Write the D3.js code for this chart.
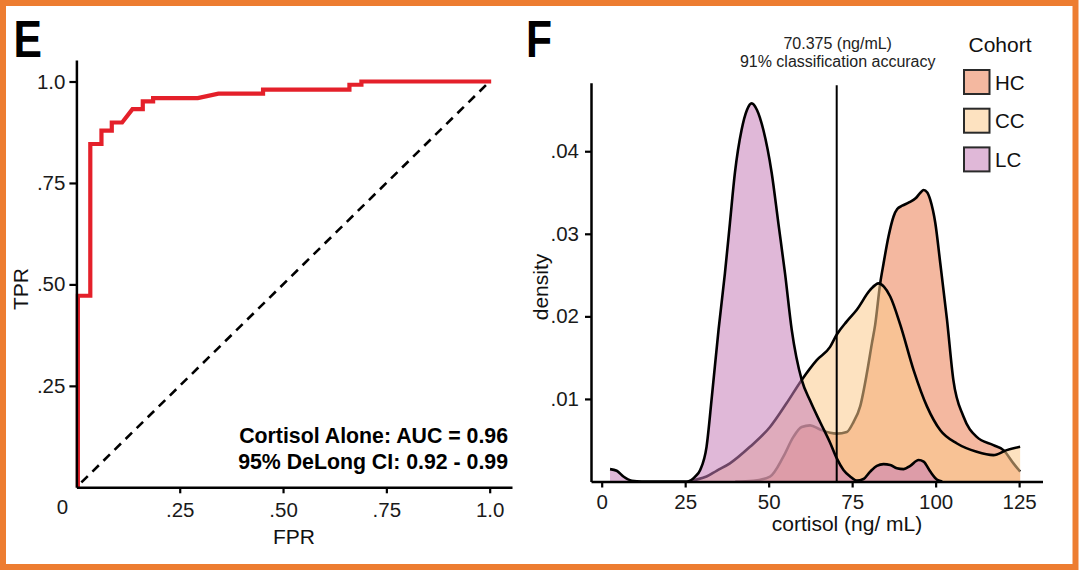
<!DOCTYPE html>
<html><head><meta charset="utf-8">
<script src="https://cdn.jsdelivr.net/npm/d3@7"></script>
<style>
html,body{margin:0;padding:0;background:#fff;}
svg text{font-family:"Liberation Sans",Arial,sans-serif;fill:#111;}
</style></head>
<body>
<svg id="chart" width="1080" height="572"></svg>
<script>
// ---------- Panel E : ROC ----------
const rocFPR = [0, 0, 0.030, 0.030, 0.057, 0.057, 0.082, 0.082, 0.107, 0.132, 0.157, 0.157, 0.182, 0.182, 0.290, 0.340, 0.448, 0.448, 0.657, 0.657, 0.686, 0.686, 1.0];
const rocTPR = [0, 0.472, 0.472, 0.846, 0.846, 0.879, 0.879, 0.899, 0.899, 0.932, 0.932, 0.951, 0.951, 0.959, 0.959, 0.970, 0.970, 0.980, 0.980, 0.992, 0.992, 1.0, 1.0];
const rocTicks = [0.25, 0.5, 0.75, 1.0];
const rocTickLabels = [".25", ".50", ".75", "1.0"];
const rocAnnot = ["Cortisol Alone: AUC = 0.96", "95% DeLong CI: 0.92 - 0.99"];

// ---------- Panel F : density ----------
const cohorts = ["HC", "CC", "LC"];
const cohortColors = ["#EB7E52", "#FBCA8C", "#C77EB8"];
const hcCortisol = [40, 45.4, 50.4, 54.4, 57.4, 59.9, 62.4, 65.4, 68.4, 70.4, 73.4, 75.4, 77.4, 79.4, 80.9, 81.9, 83.4, 84.4, 85.9, 87.4, 88.5, 90, 92, 94, 95.5, 96.4, 97.5, 98.4, 99.9, 101.4, 103.4, 105.3, 108.3, 112.3, 117.3, 120.3, 123.3, 125.3];
const hcDensity  = [0, 0.0001, 0.0006, 0.0030, 0.0054, 0.0066, 0.0068, 0.0063, 0.0059, 0.0058, 0.0060, 0.0072, 0.0091, 0.0131, 0.0167, 0.0190, 0.0240, 0.0264, 0.0297, 0.0321, 0.0330, 0.0334, 0.0338, 0.0343, 0.0350, 0.0353, 0.0350, 0.0341, 0.0313, 0.0264, 0.0196, 0.0123, 0.0079, 0.0054, 0.0044, 0.0038, 0.0022, 0.0012];
const ccCortisol = [26, 28, 31.4, 34.4, 38.4, 44.4, 50.4, 55.4, 59.9, 64.4, 68.4, 70.4, 73.4, 76.4, 80.4, 82.9, 84.5, 86.4, 89.4, 93.4, 97.4, 101.4, 106.4, 112.3, 117.3, 121.3, 125.3];
const ccDensity  = [0, 0.0002, 0.0006, 0.0013, 0.0022, 0.0042, 0.0066, 0.0095, 0.0123, 0.0147, 0.0163, 0.0178, 0.0194, 0.0208, 0.0232, 0.0240, 0.0236, 0.0224, 0.0190, 0.0135, 0.0091, 0.0062, 0.0046, 0.0036, 0.0032, 0.0038, 0.0042];
const lcCortisol = [2.5, 4.5, 6.5, 9, 12, 20, 25.5, 28, 29.5, 31.4, 33, 35, 36.9, 38.4, 39.9, 41.9, 43.5, 44.9, 46.5, 48.4, 50.9, 52.9, 54.9, 56.9, 59.9, 62.4, 65.4, 68.4, 70.4, 72.4, 74.4, 76.4, 78.4, 80.4, 82.4, 84.4, 86.4, 88.4, 90.4, 92.4, 94.9, 96.4, 98.4, 100.5, 102];
const lcDensity  = [0.0015, 0.0013, 0.0006, 0.0001, 0, 0, 0, 0.0006, 0.0014, 0.0042, 0.0103, 0.0184, 0.0252, 0.0313, 0.0374, 0.0426, 0.0450, 0.0458, 0.0450, 0.0426, 0.0374, 0.0313, 0.0252, 0.0184, 0.0123, 0.0098, 0.0072, 0.0047, 0.0028, 0.0014, 0.0006, 0.0001, 0.0003, 0.0012, 0.0019, 0.0021, 0.0020, 0.0016, 0.0015, 0.0019, 0.0026, 0.0024, 0.0012, 0.0002, 0];
const densTicks = [0.01, 0.02, 0.03, 0.04];
const densTickLabels = [".01", ".02", ".03", ".04"];
const cortTicks = [0, 25, 50, 75, 100, 125];
const cortTickLabels = ["0", "25", "50", "75", "100", "125"];
const cutoff = 70.375;
const cutoffAnnot = ["70.375 (ng/mL)", "91% classification accuracy"];

const svg = d3.select("#chart");

// frame
svg.append("rect").attr("x", 3).attr("y", 3).attr("width", 1072.5).attr("height", 564)
  .attr("fill", "none").attr("stroke", "#ED7D31").attr("stroke-width", 6);

function panelLetter(txt, x, y) {
  svg.append("text").attr("transform", `translate(${x},${y}) scale(0.82,1)`)
    .attr("font-size", 52).attr("font-weight", "bold").style("fill", "#000").text(txt);
}
function styleAxis(g) {
  g.select(".domain").attr("stroke", "#000").attr("stroke-width", 2.5);
  g.selectAll(".tick line").attr("stroke", "#000").attr("stroke-width", 2.2);
  g.selectAll(".tick text").attr("font-size", 20.5).style("fill", "#1a1a1a");
}

// ===== Panel E =====
panelLetter("E", 13.5, 57);
const xR = d3.scaleLinear().domain([0, 1.054]).range([76.4, 512]);
const yR = d3.scaleLinear().domain([0, 1.053]).range([487.3, 60]);

// diagonal
svg.append("line")
  .attr("x1", xR(0.012)).attr("y1", yR(0.012)).attr("x2", xR(1)).attr("y2", yR(1))
  .attr("stroke", "#000").attr("stroke-width", 2.6).attr("stroke-dasharray", "9,6.5");

// ROC line
const rocPts = rocFPR.map((f, i) => [f, rocTPR[i]]);
svg.append("path").datum(rocPts)
  .attr("d", d3.line().x(d => xR(d[0]) + 1.5).y(d => yR(d[1])))
  .attr("fill", "none").attr("stroke", "#E4202A").attr("stroke-width", 4.2)
  .attr("stroke-linejoin", "miter");

const gxR = svg.append("g").attr("transform", `translate(0,${yR(0)})`)
  .call(d3.axisBottom(xR).tickValues(rocTicks).tickFormat((d, i) => rocTickLabels[i]).tickSize(6).tickSizeOuter(0).tickPadding(9.5));
styleAxis(gxR);
const gyR = svg.append("g").attr("transform", `translate(${xR(0)},0)`)
  .call(d3.axisLeft(yR).tickValues(rocTicks).tickFormat((d, i) => rocTickLabels[i]).tickSize(7).tickSizeOuter(0).tickPadding(4));
styleAxis(gyR);
svg.append("text").attr("x", xR(0) - 14).attr("y", yR(0) + 26.5).attr("text-anchor", "middle")
  .attr("font-size", 20.5).style("fill", "#1a1a1a").text("0");

svg.append("text").attr("x", 294).attr("y", 544).attr("text-anchor", "middle")
  .attr("font-size", 21).text("FPR");
svg.append("text").attr("transform", "translate(28,289) rotate(-90)").attr("text-anchor", "middle")
  .attr("font-size", 21).text("TPR");

rocAnnot.forEach((t, i) => {
  svg.append("text").attr("x", 508).attr("y", 443.3 + i * 26).attr("text-anchor", "end")
    .attr("font-size", 21.3).attr("font-weight", "bold").style("fill", "#000").text(t);
});

// ===== Panel F =====
panelLetter("F", 526, 57);
const xD = d3.scaleLinear().domain([-3.2, 132]).range([591, 1042.5]);
const yD = d3.scaleLinear().domain([0, 0.0483]).range([481.5, 82.7]);

const series = [
  {name: "HC", xs: hcCortisol, ys: hcDensity},
  {name: "CC", xs: ccCortisol, ys: ccDensity},
  {name: "LC", xs: lcCortisol, ys: lcDensity}
];
const area = d3.area().curve(d3.curveMonotoneX).x(d => xD(d[0])).y0(yD(0)).y1(d => yD(d[1]));
const line = d3.line().curve(d3.curveMonotoneX).x(d => xD(d[0])).y(d => yD(d[1]));
series.forEach(s => {
  const pts = s.xs.map((x, i) => [x, s.ys[i]]);
  const col = cohortColors[cohorts.indexOf(s.name)];
  svg.append("path").datum(pts).attr("d", area).attr("fill", col).attr("fill-opacity", 0.55);
  svg.append("path").datum(pts).attr("d", line).attr("fill", "none")
    .attr("stroke", "#000").attr("stroke-width", 2.6);
});

// cutoff line
svg.append("line").attr("x1", xD(cutoff)).attr("x2", xD(cutoff))
  .attr("y1", yD.range()[1] + 2.5).attr("y2", yD(0))
  .attr("stroke", "#000").attr("stroke-width", 2);
cutoffAnnot.forEach((t, i) => {
  svg.append("text").attr("x", xD(cutoff) + 1).attr("y", 48.5 + i * 18.3).attr("text-anchor", "middle")
    .attr("font-size", 16).style("fill", "#222").text(t);
});

const gxD = svg.append("g").attr("transform", `translate(0,${yD(0)})`)
  .call(d3.axisBottom(xD).tickValues(cortTicks).tickFormat((d, i) => cortTickLabels[i]).tickSize(6).tickSizeOuter(0).tickPadding(7));
styleAxis(gxD);
const gyD = svg.append("g").attr("transform", `translate(${xD.range()[0]},0)`)
  .call(d3.axisLeft(yD).tickValues(densTicks).tickFormat((d, i) => densTickLabels[i]).tickSize(6).tickSizeOuter(0).tickPadding(6));
styleAxis(gyD);

svg.append("text").attr("x", 847).attr("y", 531).attr("text-anchor", "middle")
  .attr("font-size", 21).text("cortisol (ng/ mL)");
svg.append("text").attr("transform", "translate(548,287) rotate(-90)").attr("text-anchor", "middle")
  .attr("font-size", 21).text("density");

// legend
svg.append("text").attr("x", 968.5).attr("y", 52).attr("font-size", 21).text("Cohort");
cohorts.forEach((c, i) => {
  const y0 = 70 + i * 38.7;
  svg.append("rect").attr("x", 964).attr("y", y0).attr("width", 25.5).attr("height", 24)
    .attr("fill", "#fff").attr("stroke", "none");
  svg.append("rect").attr("x", 964).attr("y", y0).attr("width", 25.5).attr("height", 24)
    .attr("fill", cohortColors[i]).attr("fill-opacity", 0.55)
    .attr("stroke", "#2a2a2a").attr("stroke-width", 2);
  svg.append("text").attr("x", 995).attr("y", y0 + 19.5).attr("font-size", 20.5).text(c);
});
</script>
</body></html>
